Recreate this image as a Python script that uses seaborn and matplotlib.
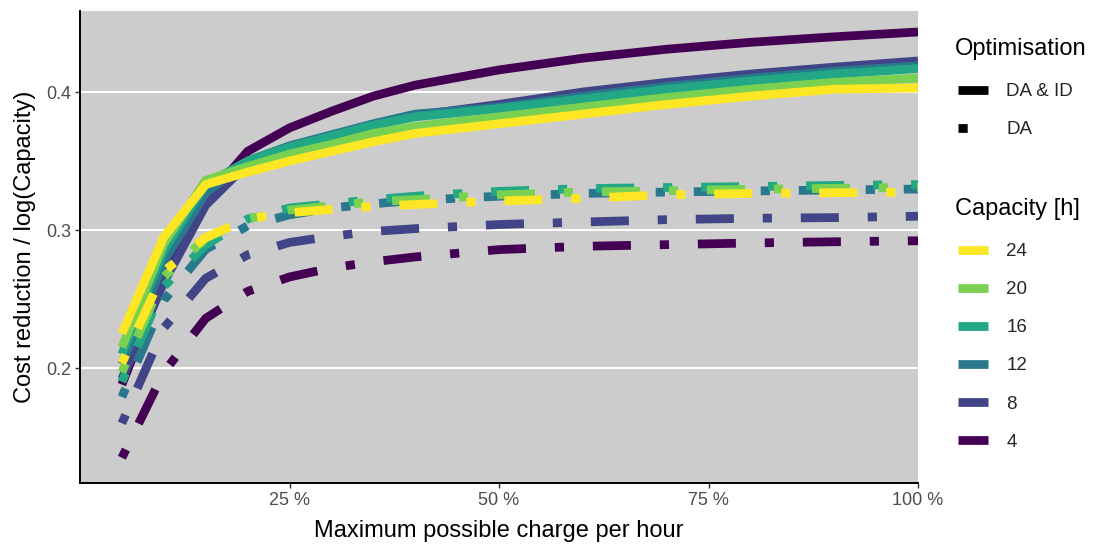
import numpy as np
import pandas as pd
import matplotlib
matplotlib.use("Agg")
import matplotlib.pyplot as plt
from matplotlib.lines import Line2D
import seaborn as sns

# Maximum possible charge per hour (share of capacity)
charge = [0.05, 0.10, 0.15, 0.20, 0.25, 0.30, 0.35, 0.40, 0.50, 0.60, 0.70, 0.80, 0.90, 1.00]

capacities = [4, 8, 12, 16, 20, 24]

# Cost reduction / log(capacity), day-ahead and intraday optimisation
da_id_4 = [0.188, 0.265, 0.322, 0.357, 0.374, 0.386, 0.397, 0.405, 0.416, 0.4245, 0.431, 0.436, 0.440, 0.4435]
da_id_8 = [0.192, 0.262, 0.318, 0.348, 0.360, 0.368, 0.376, 0.383, 0.391, 0.400, 0.407, 0.413, 0.418, 0.4225]
da_id_12 = [0.203, 0.277, 0.327, 0.350, 0.361, 0.369, 0.377, 0.384, 0.389, 0.397, 0.404, 0.410, 0.415, 0.419]
da_id_16 = [0.210, 0.285, 0.333, 0.350, 0.360, 0.368, 0.376, 0.382, 0.388, 0.395, 0.402, 0.408, 0.413, 0.417]
da_id_20 = [0.215, 0.290, 0.336, 0.346, 0.355, 0.362, 0.370, 0.375, 0.382, 0.389, 0.396, 0.402, 0.407, 0.410]
da_id_24 = [0.225, 0.295, 0.333, 0.342, 0.350, 0.357, 0.364, 0.370, 0.377, 0.384, 0.391, 0.397, 0.402, 0.403]

# Cost reduction / log(capacity), day-ahead optimisation only
da_4 = [0.135, 0.197, 0.236, 0.2555, 0.266, 0.2725, 0.277, 0.2805, 0.2858, 0.2882, 0.2894, 0.2906, 0.2915, 0.2922]
da_8 = [0.160, 0.229, 0.265, 0.282, 0.291, 0.2955, 0.299, 0.301, 0.304, 0.3058, 0.3075, 0.3085, 0.309, 0.310]
da_12 = [0.179, 0.249, 0.286, 0.303, 0.311, 0.316, 0.319, 0.3215, 0.3245, 0.3265, 0.3275, 0.3283, 0.329, 0.3297]
da_16 = [0.190, 0.259, 0.289, 0.308, 0.316, 0.319, 0.322, 0.3245, 0.328, 0.330, 0.3308, 0.3315, 0.3323, 0.333]
da_20 = [0.197, 0.266, 0.294, 0.308, 0.3145, 0.3175, 0.3205, 0.322, 0.3255, 0.3275, 0.3285, 0.3295, 0.3302, 0.331]
da_24 = [0.2036, 0.270, 0.2946, 0.308, 0.3125, 0.315, 0.3172, 0.3185, 0.321, 0.323, 0.3255, 0.3265, 0.327, 0.3275]

x_ticks = [0.25, 0.50, 0.75, 1.00]
x_tick_labels = ["25 %", "50 %", "75 %", "100 %"]
y_ticks = [0.2, 0.3, 0.4]
y_tick_labels = ["0.2", "0.3", "0.4"]

series = {
    ("DA & ID", 4): da_id_4, ("DA & ID", 8): da_id_8, ("DA & ID", 12): da_id_12,
    ("DA & ID", 16): da_id_16, ("DA & ID", 20): da_id_20, ("DA & ID", 24): da_id_24,
    ("DA", 4): da_4, ("DA", 8): da_8, ("DA", 12): da_12,
    ("DA", 16): da_16, ("DA", 20): da_20, ("DA", 24): da_24,
}
rows = []
for (opt, cap), vals in series.items():
    for c, v in zip(charge, vals):
        rows.append({"charge": c, "value": v, "Capacity": cap, "Optimisation": opt})
df = pd.DataFrame(rows)

palette = {4: "#440154", 8: "#414487", 12: "#2A788E", 16: "#22A884", 20: "#7AD151", 24: "#FDE725"}
dotdash = (1.05, 3.3, 4.35, 3.3)
dashes = {"DA & ID": "", "DA": dotdash}

sns.set_theme(style="white")
plt.rcParams["font.family"] = ["Liberation Sans", "DejaVu Sans"]

W, H, DPI = 1096, 547, 100
fig = plt.figure(figsize=(W / DPI, H / DPI), dpi=DPI)
ax = fig.add_axes([80 / W, 1 - 483 / H, (918 - 80) / W, (483 - 11) / H])
ax.set_facecolor("#CCCCCC")

LW = 6.3
sns.lineplot(
    data=df, x="charge", y="value", hue="Capacity", style="Optimisation",
    hue_order=capacities, style_order=["DA & ID", "DA"],
    palette=palette, dashes=dashes, linewidth=LW, legend=False,
    estimator=None, sort=False, ax=ax,
    dash_capstyle="butt", solid_capstyle="butt",
    solid_joinstyle="round", dash_joinstyle="round", zorder=3,
)

ax.set_xlim(0, 1)
ax.set_ylim(0.1167, 0.4587)
ax.set_xticks(x_ticks)
ax.set_xticklabels(x_tick_labels)
ax.set_yticks(y_ticks)
ax.set_yticklabels(y_tick_labels)
ax.yaxis.grid(True, color="white", linewidth=1.5, zorder=1)
ax.xaxis.grid(False)
ax.set_axisbelow(True)

for side in ["top", "right"]:
    ax.spines[side].set_visible(False)
for side in ["left", "bottom"]:
    ax.spines[side].set_visible(True)
    ax.spines[side].set_color("black")
    ax.spines[side].set_linewidth(1.4)

ax.tick_params(axis="both", which="major", length=3.5, width=1.0, color="#333333",
               labelsize=13, labelcolor="#4D4D4D", pad=3, bottom=True, left=True)

ax.set_xlabel("Maximum possible charge per hour", fontsize=17, color="black", labelpad=8)
ax.set_ylabel("Cost reduction / log(Capacity)", fontsize=17, color="black", labelpad=7)

# Legends: titles placed as text, key rows as legends underneath
LEG_X = 958 / W
STEP_SPACING = 1.12


def legend_block(handles, labels, title, title_y, first_row_top):
    fig.text(955 / W, 1 - title_y / H, title, fontsize=17, color="black",
             ha="left", va="center")
    return fig.legend(
        handles, labels, loc="upper left",
        bbox_to_anchor=(LEG_X, 1 - first_row_top / H),
        frameon=False, fontsize=13.5, borderpad=0, borderaxespad=0,
        handlelength=1.62, handletextpad=0.95, labelspacing=STEP_SPACING,
    )


opt_handles = [
    Line2D([0], [0], color="black", linewidth=LW, solid_capstyle="butt"),
    Line2D([0], [0], color="black", linewidth=LW, linestyle=(0, dotdash), dash_capstyle="butt"),
]
legend_block(opt_handles, ["DA & ID", "DA"], "Optimisation", 49, 83)

cap_handles = [Line2D([0], [0], color=palette[c], linewidth=LW, solid_capstyle="butt")
               for c in capacities[::-1]]
legend_block(cap_handles, [str(c) for c in capacities[::-1]], "Capacity [h]", 209, 243)

fig.savefig("out.png", dpi=DPI, facecolor="white")
